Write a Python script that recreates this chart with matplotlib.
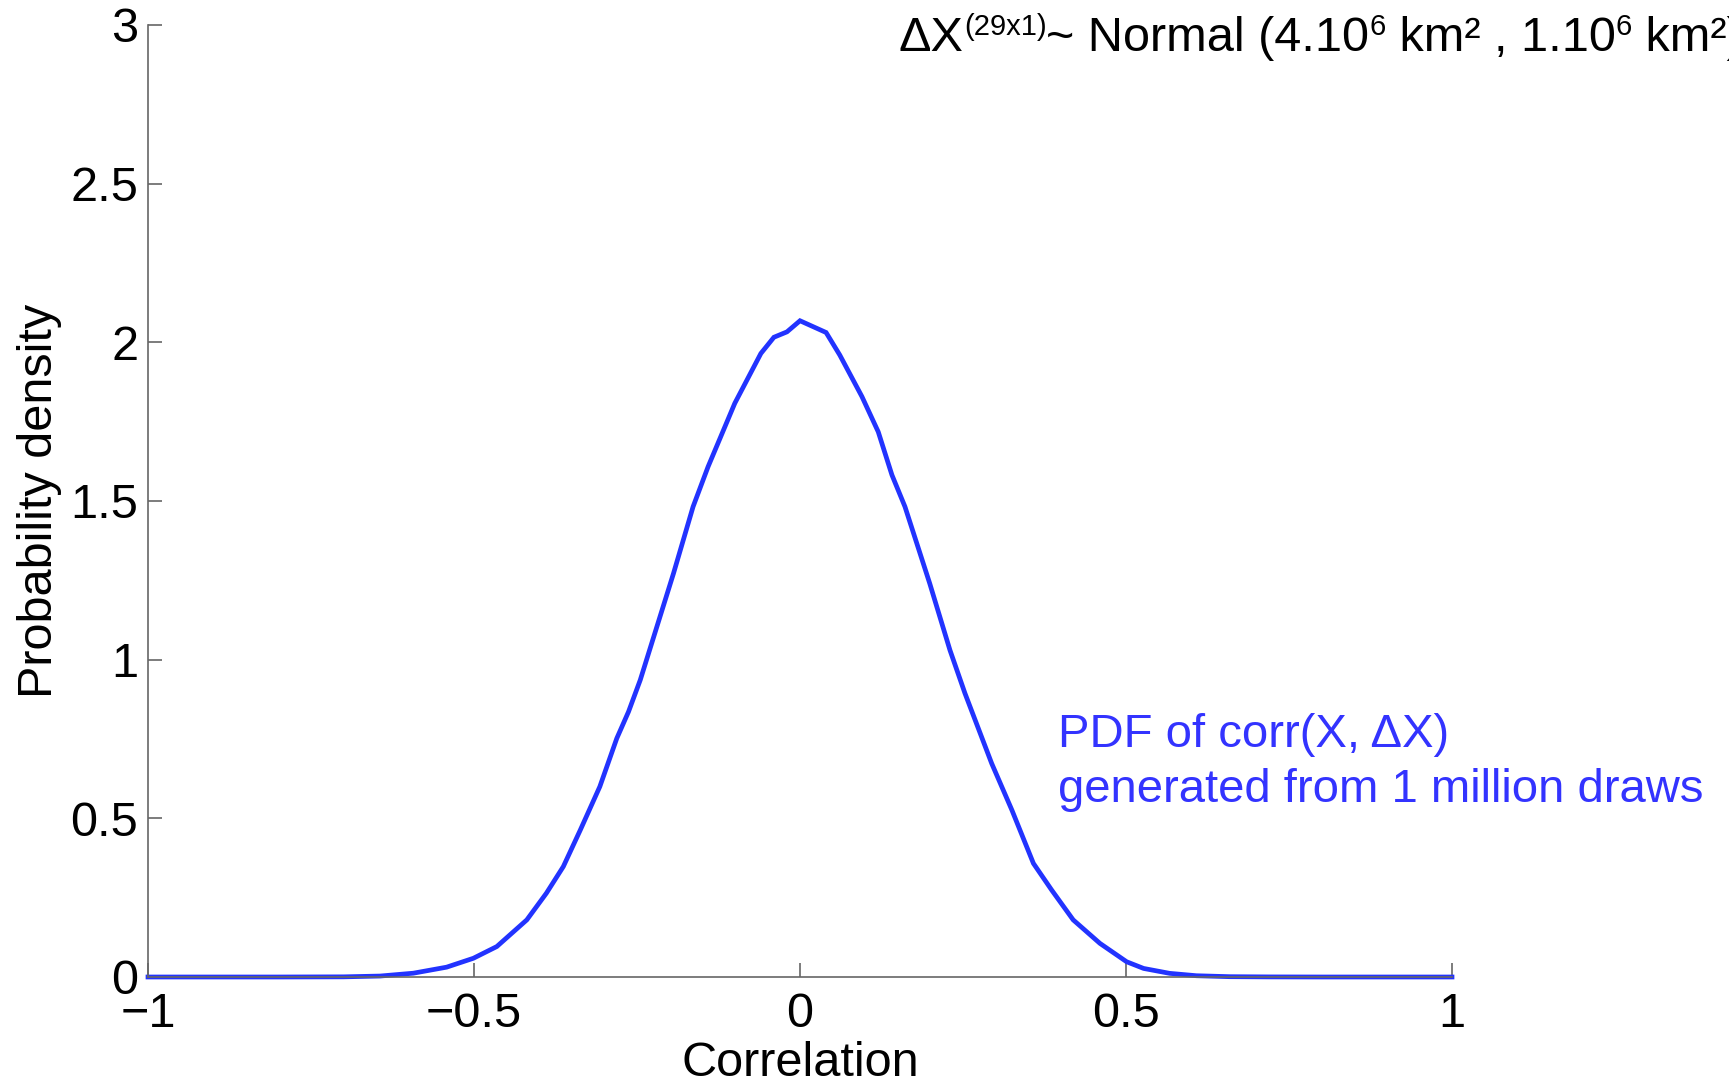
import matplotlib
matplotlib.use("Agg")
import matplotlib.pyplot as plt
from matplotlib.transforms import offset_copy

plt.rcParams['font.family'] = ['Liberation Sans', 'DejaVu Sans']

# Data
correlation = [-1.0, -0.8, -0.7, -0.644, -0.593, -0.542, -0.501, -0.465, -0.419, -0.389,
               -0.363, -0.337, -0.307, -0.281, -0.263, -0.245, -0.194, -0.164, -0.141,
               -0.100, -0.060, -0.040, -0.020, 0.0, 0.040, 0.061, 0.095, 0.120, 0.141,
               0.161, 0.199, 0.230, 0.253, 0.294, 0.325, 0.358, 0.386, 0.419, 0.460,
               0.501, 0.527, 0.567, 0.608, 0.659, 0.72, 0.8, 1.0]
density = [0.0, 0.0, 0.0005, 0.003, 0.012, 0.031, 0.059, 0.096, 0.180, 0.264,
           0.348, 0.463, 0.600, 0.752, 0.836, 0.936, 1.272, 1.482, 1.608,
           1.808, 1.965, 2.016, 2.033, 2.068, 2.031, 1.960, 1.829, 1.718, 1.582,
           1.482, 1.240, 1.030, 0.894, 0.673, 0.526, 0.358, 0.274, 0.180, 0.106,
           0.048, 0.027, 0.0115, 0.004, 0.001, 0.0003, 0.0, 0.0]

xticks = [-1, -0.5, 0, 0.5, 1]
xticklabels = ['\u22121', '\u22120.5', '0', '0.5', '1']
yticks = [0, 0.5, 1, 1.5, 2, 2.5, 3]
yticklabels = ['0', '0.5', '1', '1.5', '2', '2.5', '3']

# title pieces: (text, is_superscript)
title_pieces = [('\u0394X', False), ('(29x1)', True), ('~ Normal (4.10', False), ('6', True),
                (' km\u00b2 , 1.10', False), ('6', True), (' km\u00b2)', False)]

fig = plt.figure(figsize=(17.29, 10.81), dpi=100)
ax = fig.add_axes([148 / 1729, 1 - 977 / 1081, 1304 / 1729, 952 / 1081])

ax.plot(correlation, density, color='#2233ff', lw=3.4, solid_joinstyle='miter', clip_on=False)

ax.set_xlim(-1, 1)
ax.set_ylim(0, 3)
ax.set_xticks(xticks)
ax.set_xticklabels(xticklabels)
ax.set_yticks(yticks)
ax.set_yticklabels(yticklabels)

for s in ['top', 'right']:
    ax.spines[s].set_visible(False)
for s in ['left', 'bottom']:
    ax.spines[s].set_color('#666666')
    ax.spines[s].set_linewidth(1.2)

ax.tick_params(axis='both', direction='in', length=10, width=1.2, color='#666666',
               labelsize=35, labelcolor='black')
ax.tick_params(axis='x', pad=11)
ax.tick_params(axis='y', pad=7)

ax.set_xlabel('Correlation', fontsize=35)
ax.xaxis.set_label_coords(0.5, -0.067)
ax.set_ylabel('Probability density', fontsize=35)
ax.yaxis.set_label_coords(-0.066, 0.5)

# Title composed from pieces with superscripts
fig.canvas.draw()
renderer = fig.canvas.get_renderer()
x_px = 899.0
base_y = 1081 - 51.0
for txt, sup in title_pieces:
    size = 21 if sup else 35
    y_px = base_y + (16 if sup else 0)
    t = fig.text(x_px / 1729, y_px / 1081, txt, fontsize=size, ha='left', va='baseline',
                 color='black')
    w = t.get_window_extent(renderer=renderer).width
    x_px += w

fig.text(1058 / 1729, 1 - 802 / 1081, 'PDF of corr(X, \u0394X)\ngenerated from 1 million draws',
         fontsize=34, color='#3333ff', ha='left', va='baseline', linespacing=1.32)

fig.savefig('out.png', dpi=100)
